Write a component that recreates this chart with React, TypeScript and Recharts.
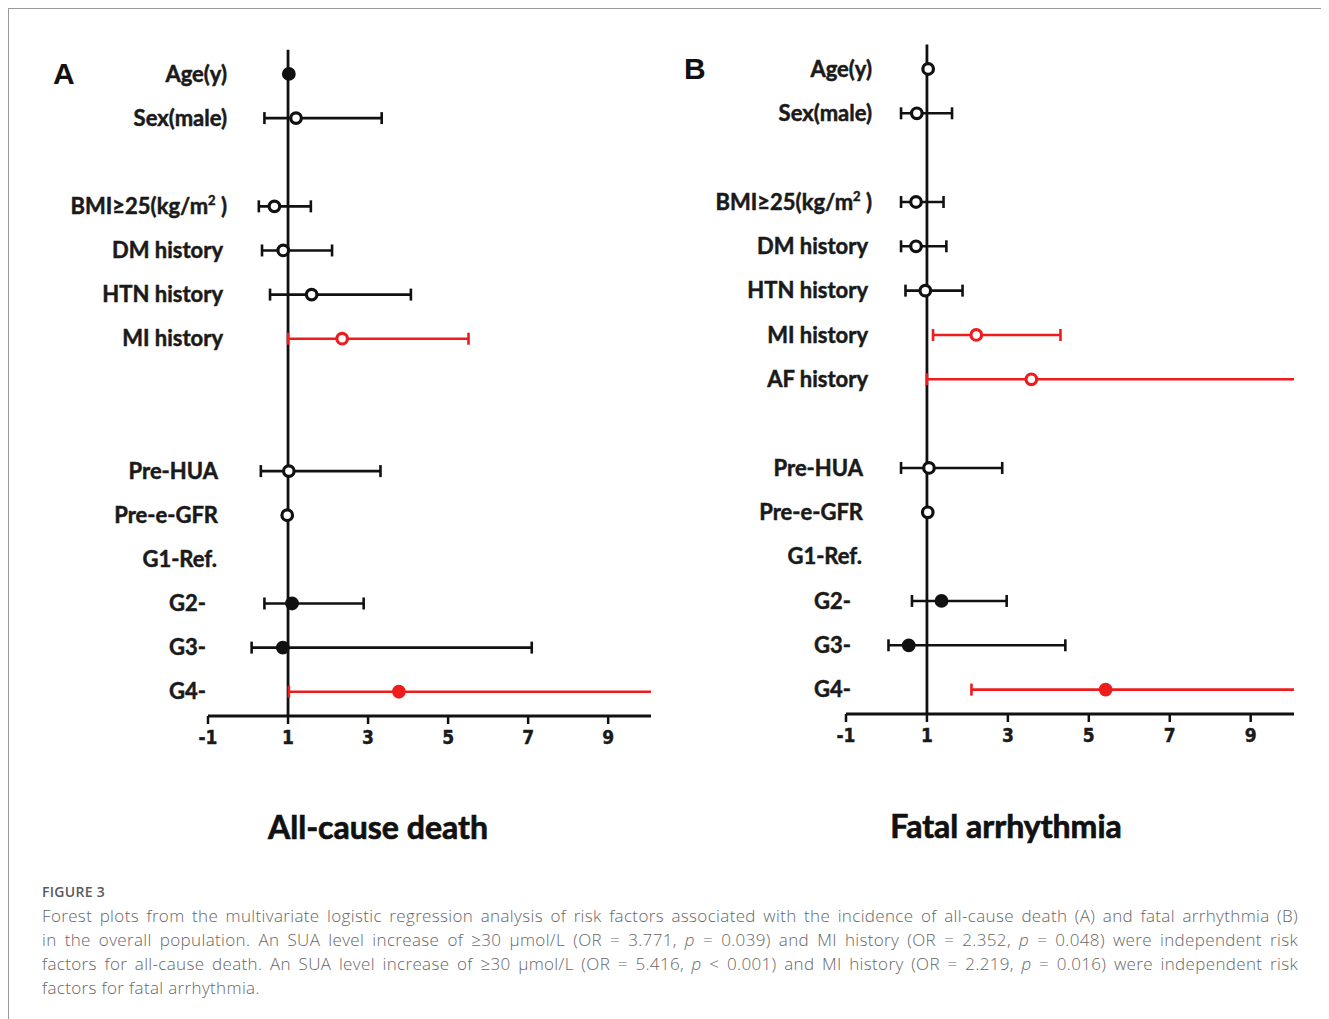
import React from 'react';
import { ScatterChart, Scatter, XAxis, YAxis, ErrorBar, ReferenceLine } from 'recharts';

// Panel A: all-cause death
const labelsA = ['Age(y)', 'Sex(male)', 'BMI≥25(kg/m²)', 'DM history', 'HTN history', 'MI history', 'Pre-HUA', 'Pre-e-GFR', 'G1-Ref.', 'G2-', 'G3-', 'G4-'];
const rowsA = [0, 1, 3, 4, 5, 6, 9, 10, 11, 12, 13, 14];
const orA = [1.02, 1.2, 0.66, 0.88, 1.59, 2.352, 1.02, 0.98, null, 1.1, 0.87, 3.771];
const lowA = [null, 0.41, 0.27, 0.35, 0.55, 1.0, 0.32, null, null, 0.41, 0.09, 1.02];
// upper bound of G4 runs past the axis end
const highA = [null, 3.34, 1.57, 2.1, 4.07, 5.51, 3.31, null, null, 2.89, 7.09, 12];
const filledA = [true, false, false, false, false, false, false, false, false, true, true, true];
const sigA = [false, false, false, false, false, true, false, false, false, false, false, true];

// Panel B: fatal arrhythmia
const labelsB = ['Age(y)', 'Sex(male)', 'BMI≥25(kg/m²)', 'DM history', 'HTN history', 'MI history', 'AF history', 'Pre-HUA', 'Pre-e-GFR', 'G1-Ref.', 'G2-', 'G3-', 'G4-'];
const rowsB = [0, 1, 3, 4, 5, 6, 7, 9, 10, 11, 12, 13, 14];
const orB = [1.03, 0.75, 0.73, 0.73, 0.96, 2.219, 3.58, 1.05, 1.02, null, 1.36, 0.55, 5.416];
const lowB = [null, 0.36, 0.36, 0.36, 0.47, 1.15, 1.0, 0.36, null, null, 0.63, 0.05, 2.1];
// AF and G4 upper bounds run past the axis end
const highB = [null, 1.62, 1.41, 1.48, 1.88, 4.3, 12, 2.86, null, null, 2.97, 4.42, 12];
const filledB = [false, false, false, false, false, false, false, false, false, false, true, true, true];
const sigB = [false, false, false, false, false, true, true, false, false, false, false, false, true];

const xTicks = [-1, 1, 3, 5, 7, 9];

const RED = '#ee1c1c';
const BLACK = '#111111';

const LABEL_INDENT: Record<string, number> = {
  'Age(y)': 0, 'Sex(male)': 0, 'BMI≥25(kg/m²)': 0,
  'DM history': -4, 'HTN history': -4, 'MI history': -4, 'AF history': -4,
  'Pre-HUA': -9, 'Pre-e-GFR': -9, 'G1-Ref.': -10,
  'G2-': -21, 'G3-': -21, 'G4-': -21,
};

type Pt = { x: number; y: number; err?: [number, number]; filled: boolean };

function buildPoints(rows: number[], or: (number | null)[], low: (number | null)[], high: (number | null)[], filled: boolean[], sig: boolean[], want: boolean) {
  const out: Pt[] = [];
  rows.forEach((r, i) => {
    const v = or[i];
    if (v == null || sig[i] !== want) return;
    const lo = low[i];
    const hi = high[i];
    const err: [number, number] | undefined = lo == null || hi == null ? undefined : [v - lo, hi - v];
    out.push({ x: v, y: r, err, filled: filled[i] });
  });
  return out;
}

const dot = (color: string) => (props: any) => {
  const { cx, cy, payload } = props;
  if (cx == null || cy == null) return <g />;
  return <circle cx={cx} cy={cy} r={5.3} fill={payload.filled ? color : '#fff'} stroke={color} strokeWidth={3.2} />;
};

const labelStyle = { fontFamily: 'Lato, sans-serif', fontWeight: 700, fontSize: 22, fill: '#1a1a1a', stroke: '#1a1a1a', strokeWidth: 0.5 };

const RowTick = (labels: string[], rows: number[], shift: number) => (props: any) => {
  const { x, y, payload } = props;
  const idx = rows.indexOf(payload.value);
  if (idx < 0) return <g />;
  const label = labels[idx];
  const tx = x + shift + (LABEL_INDENT[label] ?? 0);
  if (label.includes('²')) {
    const [pre, post] = label.split('²');
    return (
      <text x={tx} y={y} dy="0.35em" textAnchor="end" style={labelStyle}>
        {pre}
        <tspan fontSize={13} dy={-9}>2</tspan>
        <tspan dy={9}>{' ' + post}</tspan>
      </text>
    );
  }
  return (
    <text x={tx} y={y} dy="0.35em" textAnchor="end" style={labelStyle}>
      {label}
    </text>
  );
};

const XTick = (props: any) => {
  const { x, y, payload } = props;
  return (
    <text x={x} y={y} dy="0.85em" textAnchor="middle"
      style={{ fontFamily: "'Liberation Sans Narrow', 'DejaVu Sans Condensed', sans-serif", fontWeight: 700, fontSize: 19, fill: '#1a1a1a', stroke: '#1a1a1a', strokeWidth: 0.4 }}>
      {payload.value}
    </text>
  );
};

interface PanelProps {
  labels: string[];
  rows: number[];
  or: (number | null)[];
  low: (number | null)[];
  high: (number | null)[];
  filled: boolean[];
  sig: boolean[];
  width: number;
  axisWidth: number;
  top: number;
  bottom: number;
  labelShift: number;
}

function ForestPanel(p: PanelProps) {
  const black = buildPoints(p.rows, p.or, p.low, p.high, p.filled, p.sig, false);
  const red = buildPoints(p.rows, p.or, p.low, p.high, p.filled, p.sig, true);
  return (
    <ScatterChart width={p.width} height={760} margin={{ top: p.top, right: 0, bottom: p.bottom, left: 0 }}>
      <XAxis
        type="number"
        dataKey="x"
        domain={[-1, 10.07]}
        ticks={xTicks}
        allowDataOverflow
        axisLine={{ stroke: BLACK, strokeWidth: 3 }}
        tickLine={{ stroke: BLACK, strokeWidth: 2.5 }}
        tickSize={8}
        tickMargin={4}
        height={40}
        tick={XTick}
      />
      <YAxis
        type="number"
        dataKey="y"
        domain={[-0.55, 14.55]}
        reversed
        allowDataOverflow
        ticks={p.rows}
        interval={0}
        width={p.axisWidth}
        axisLine={false}
        tickLine={false}
        tickSize={0}
        tickMargin={0}
        tick={RowTick(p.labels, p.rows, p.labelShift)}
      />
      <ReferenceLine x={1} stroke={BLACK} strokeWidth={2.8} />
      <Scatter data={black} isAnimationActive={false} shape={dot(BLACK)}>
        <ErrorBar dataKey="err" direction="x" width={6} stroke={BLACK} strokeWidth={2.6} />
      </Scatter>
      <Scatter data={red} isAnimationActive={false} shape={dot(RED)}>
        <ErrorBar dataKey="err" direction="x" width={6} stroke={RED} strokeWidth={2.6} />
      </Scatter>
    </ScatterChart>
  );
}

const captionLines = [
  <>Forest plots from the multivariate logistic regression analysis of risk factors associated with the incidence of all-cause death (A) and fatal arrhythmia (B)</>,
  <>in the overall population. An SUA level increase of ≥30 μmol/L (OR = 3.771, <i>p</i> = 0.039) and MI history (OR = 2.352, <i>p</i> = 0.048) were independent risk</>,
  <>factors for all-cause death. An SUA level increase of ≥30 μmol/L (OR = 5.416, <i>p</i> &lt; 0.001) and MI history (OR = 2.219, <i>p</i> = 0.016) were independent risk</>,
];

const titleStyle = { fontFamily: 'Lato, sans-serif', fontWeight: 700, fontSize: 32, fill: '#111', stroke: '#111', strokeWidth: 0.7 };
const letterStyle = { fontFamily: "'Liberation Sans', Arial, sans-serif", fontWeight: 700, fontSize: 30, fill: '#111' };

export default function App() {
  return (
    <div style={{ position: 'relative', width: 1313, height: 1011, borderTop: '1px solid #9a9a9a', borderLeft: '1px solid #9a9a9a', boxSizing: 'border-box' }}>
      <div style={{ position: 'absolute', left: 0, top: 0 }}>
        <ForestPanel labels={labelsA} rows={rowsA} or={orA} low={lowA} high={highA} filled={filledA} sig={sigA}
          width={642} axisWidth={199} top={40.7} bottom={13} labelShift={19} />
      </div>
      <div style={{ position: 'absolute', left: 660, top: 0 }}>
        <ForestPanel labels={labelsB} rows={rowsB} or={orB} low={lowB} high={highB} filled={filledB} sig={sigB}
          width={625} axisWidth={177} top={35.6} bottom={15} labelShift={26} />
      </div>
      <svg width={1313} height={880} style={{ position: 'absolute', left: 0, top: 0, pointerEvents: 'none' }}>
        <text x={44} y={75} style={letterStyle}>A</text>
        <text x={675} y={70} style={letterStyle}>B</text>
        <text x={369} y={830} textAnchor="middle" style={titleStyle}>All-cause death</text>
        <text x={997} y={829} textAnchor="middle" style={titleStyle}>Fatal arrhythmia</text>
      </svg>
      <div style={{ position: 'absolute', left: 33, top: 873, width: 1256, fontFamily: "'Open Sans', sans-serif", color: '#666' }}>
        <div style={{ fontSize: 14, lineHeight: '20px', letterSpacing: 0.3, fontWeight: 600, color: '#5a5a5a' }}>FIGURE 3</div>
        <div style={{ fontSize: 17, lineHeight: '24px', marginTop: 2, letterSpacing: 0.35, fontWeight: 300 }}>
          {captionLines.map((l, i) => (
            <div key={i} style={{ textAlign: 'justify', textAlignLast: 'justify' }}>{l}</div>
          ))}
          <div>factors for fatal arrhythmia.</div>
        </div>
      </div>
    </div>
  );
}
